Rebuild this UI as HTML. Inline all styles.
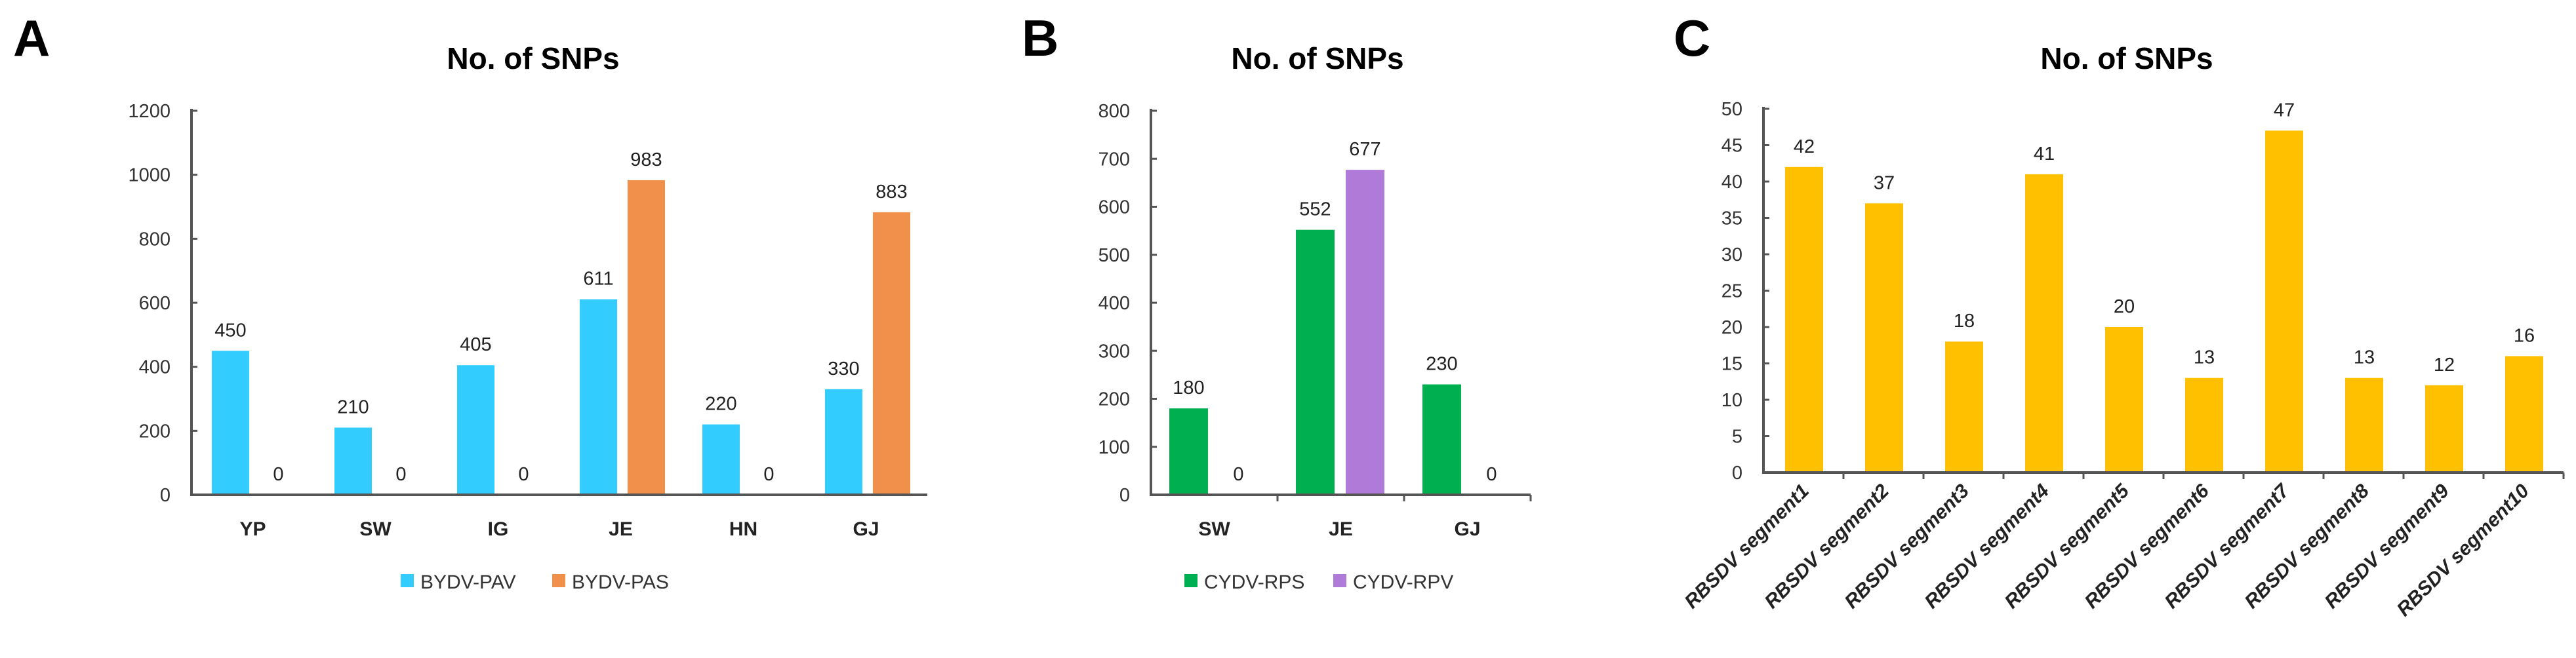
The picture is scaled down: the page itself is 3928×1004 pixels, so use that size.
<!DOCTYPE html>
<html><head><meta charset="utf-8"><style>
body{margin:0;background:#fff}
svg{display:block;font-family:"Liberation Sans",sans-serif}
</style></head><body>
<svg id="fig" width="3928" height="1004" viewBox="0 0 3928 1004" xmlns="http://www.w3.org/2000/svg">
<text x="20" y="85" font-size="78" font-weight="bold">A</text>
<text x="1558" y="85" font-size="78" font-weight="bold">B</text>
<text x="2552" y="85" font-size="78" font-weight="bold">C</text>
</svg>
<script>
const catsA=["YP","SW","IG","JE","HN","GJ"];
const pavA=[450,210,405,611,220,330];
const pasA=[0,0,0,983,0,883];
const ticksA=[0,200,400,600,800,1000,1200];
const catsB=["SW","JE","GJ"];
const rpsB=[180,552,230];
const rpvB=[0,677,0];
const ticksB=[0,100,200,300,400,500,600,700,800];
const catsC=["RBSDV segment1","RBSDV segment2","RBSDV segment3","RBSDV segment4","RBSDV segment5","RBSDV segment6","RBSDV segment7","RBSDV segment8","RBSDV segment9","RBSDV segment10"];
const snpC=[42,37,18,41,20,13,47,13,12,16];
const ticksC=[0,5,10,15,20,25,30,35,40,45,50];

const NS="http://www.w3.org/2000/svg";
const svg=document.getElementById('fig');
function mk(tag,attrs,text){const e=document.createElementNS(NS,tag);for(const k in attrs)e.setAttribute(k,attrs[k]);if(text!==undefined)e.textContent=text;svg.appendChild(e);return e;}

function panel(o){
  const x0=o.x0,x1=o.x1,y0=o.y0,yt=o.yt,max=o.ticks[o.ticks.length-1];
  const cw=(x1-x0)/o.cats.length;
  const ys=v=>y0-(v/max)*(y0-yt);
  const t=mk('text',{x:o.titleX,y:105,'font-size':46,'font-weight':'bold','text-anchor':'middle'},'No. of SNPs');
  
  
  o.ticks.forEach(v=>{
    const l=mk('text',{x:x0-32,y:ys(v)+10,'font-size':29,fill:'#333','text-anchor':'end'},String(v));
    
    
    const tk=mk('line',{x1:x0,x2:x0+9,y1:ys(v),y2:ys(v),stroke:'#555','stroke-width':3});
    
    
  });
  o.series.forEach((s,si)=>{
    s.vals.forEach((v,i)=>{
      const bx=x0+i*cw+s.off;
      const r=mk('rect',{x:bx,y:ys(v),width:o.bw,height:y0-ys(v),fill:s.color});
      
      
      const lb=mk('text',{x:bx+o.bw/2,y:ys(v)-22,'font-size':29,fill:'#222','text-anchor':'middle'},String(v));
      
      
    });
  });
  const ax=mk('path',{d:`M${x0} ${yt-3}V${y0}H${x1}`,stroke:'#555','stroke-width':4,fill:'none'});
  
  
  if(o.xticks){for(let i=1;i<=o.cats.length;i++){const k=mk('line',{x1:x0+i*cw,x2:x0+i*cw,y1:y0,y2:y0+10,stroke:'#555','stroke-width':3});
    
    }}
  o.cats.forEach((c,i)=>{
    const cx=x0+i*cw+cw/2;
    let t;
    if(o.rot){t=mk('text',{x:cx+10,y:y0+30,'font-size':30,'font-weight':'bold','font-style':'italic',fill:'#222','text-anchor':'end',transform:`rotate(-45 ${cx+10} ${y0+30})`},c);}
    else t=mk('text',{x:cx,y:y0+62,'font-size':30,'font-weight':'bold',fill:'#222','text-anchor':'middle'},c);
    
    
  });
  if(o.legend){o.legend.forEach(L=>{
    const sq=mk('rect',{x:L.x,y:876,width:20,height:20,fill:L.color});
    
    
    const lt=mk('text',{x:L.x+30,y:898,'font-size':30,fill:'#333'},L.label);
    
    
  });}
}
panel({x0:292,x1:1414,y0:755,yt:169,ticks:ticksA,cats:catsA,bw:57,titleX:813,
  series:[{key:'pav',vals:pavA,color:'#33ccff',off:31},{key:'pas',vals:pasA,color:'#f0904a',off:104}],
  legend:[{x:611,color:'#33ccff',label:'BYDV-PAV'},{x:842,color:'#f0904a',label:'BYDV-PAS'}]});
panel({x0:1755,x1:2334,y0:755,yt:169,ticks:ticksB,cats:catsB,bw:59,titleX:2009,xticks:true,
  series:[{key:'rps',vals:rpsB,color:'#00b050',off:28},{key:'rpv',vals:rpvB,color:'#b07ad8',off:104}],
  legend:[{x:1806,color:'#00b050',label:'CYDV-RPS'},{x:2033,color:'#b07ad8',label:'CYDV-RPV'}]});
panel({x0:2689,x1:3909,y0:721,yt:166,ticks:ticksC,cats:catsC,bw:58,titleX:3243,xticks:true,rot:true,
  series:[{key:'snp',vals:snpC,color:'#ffc000',off:33}]});
</script>
</body></html>
